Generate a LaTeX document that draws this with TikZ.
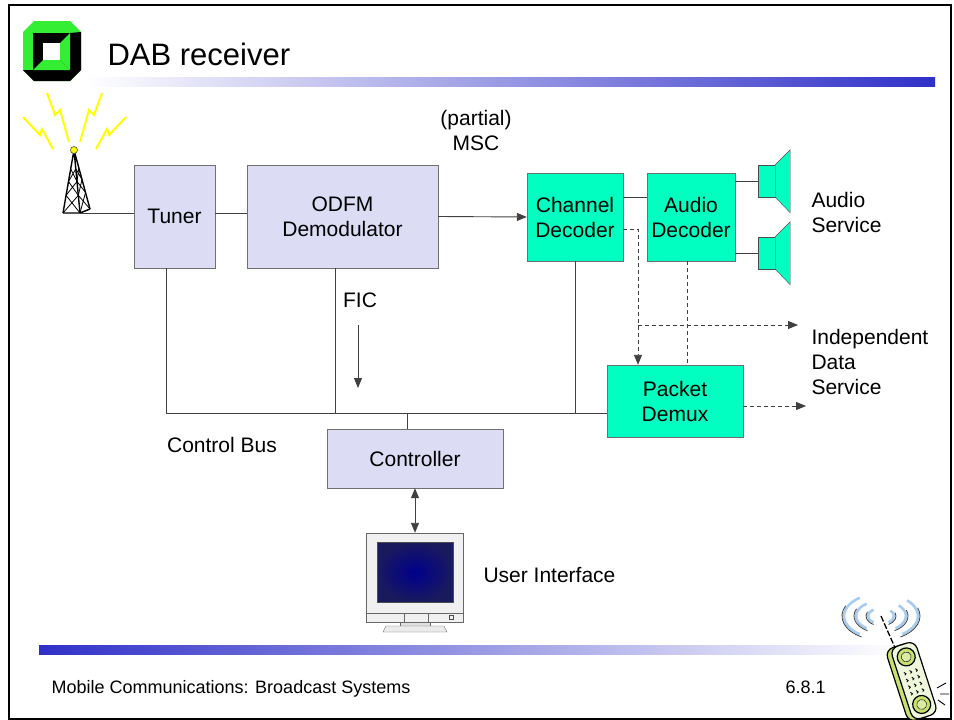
\documentclass[tikz,border=0pt]{standalone}
\usepackage{fontspec}
\setmainfont{Liberation Sans}
\usetikzlibrary{arrows.meta, positioning, calc}
\definecolor{lavender}{HTML}{DCDCF5}
\definecolor{mint}{HTML}{00FFC0}
\definecolor{barblue}{HTML}{3030C8}
\definecolor{kitgreen}{HTML}{33EE33}
\definecolor{wiregray}{HTML}{404040}
\definecolor{rimgray}{HTML}{707070}
\definecolor{bolt}{HTML}{FFFF00}
\definecolor{phoneface}{HTML}{EEF6DC}
\definecolor{phoneside}{HTML}{C8E070}
\definecolor{wave}{HTML}{A8CCF0}

\begin{document}
\begin{tikzpicture}[
    x=1pt, y=-1pt,
    every node/.style={font=\fontsize{21}{25}\selectfont},
    block/.style={
        rectangle,
        draw=rimgray,
        fill=lavender,
        inner sep=0pt,
        align=center
    },
    decoder/.style={block, fill=mint},
    wire/.style={draw=wiregray, line width=0.9pt},
    tip/.style={-{Triangle[length=10pt, width=8pt]}},
    arrow/.style={wire, tip},
    dashwire/.style={wire, dash pattern=on 4pt off 3pt},
    label/.style={align=left, anchor=west}
]
\useasboundingbox (0,0) rectangle (954,720);

% slide frame
\draw[line width=2pt] (9,5) rectangle (951,719);

% logo
\fill[kitgreen] (34,21) -- (70,21) -- (81,32) -- (81,70) -- (70,81) -- (34,81) -- (23,70) -- (23,32) -- cycle;
\fill[black] (81,32) -- (81,70) -- (70,81) -- (34,81) -- (23,70) -- (33,70) -- (70,70) -- (70,33) -- cycle;
\fill[black] (33,33) rectangle (70,70);
\fill[kitgreen] (33,70) -- (43,60) -- (60,60) -- (70,70) -- cycle;
\fill[kitgreen] (70,33) -- (60,43) -- (60,60) -- (70,70) -- cycle;
\fill[white] (43,43) rectangle (60,60);

% title and bars
\node[anchor=base west, font=\fontsize{31}{36}\selectfont] (title) at (104,65) {DAB receiver};
\shade[left color=white, right color=barblue] (85,77) rectangle (935,86);
\shade[left color=barblue, right color=white] (39,645) rectangle (900,654);
\node[anchor=base west, font=\fontsize{18}{21}\selectfont] (course) at (48,693) {Mobile Communications: Broadcast Systems};
\node[anchor=base west, font=\fontsize{18}{21}\selectfont] (page) at (782,693) {6.8.1};

% transmitter tower
\coordinate (top) at (74,150);
\coordinate (lf) at (63,213);
\coordinate (mf) at (80,213);
\coordinate (rf) at (90,209);
\draw[line width=1.4pt, line join=round] (lf) -- (top) -- (mf) (top) -- (rf) (lf) -- (mf) -- (rf);
\foreach \a/\b in {0.3/0.5, 0.5/0.72, 0.72/1} {
    \draw[line width=0.8pt] ($(top)!\a!(lf)$) -- ($(top)!\b!(mf)$) ($(top)!\b!(lf)$) -- ($(top)!\a!(mf)$);
    \draw[line width=0.8pt] ($(top)!\a!(mf)$) -- ($(top)!\b!(rf)$) ($(top)!\b!(mf)$) -- ($(top)!\a!(rf)$);
}
\draw[bolt, line width=2pt] (23,117) -- (40,135) -- (42,129) -- (53,149);
\draw[bolt, line width=2pt] (47,93) -- (55,115) -- (60,110) -- (69,142);
\draw[bolt, line width=2pt] (102,93) -- (94,115) -- (89,110) -- (80,142);
\draw[bolt, line width=2pt] (126,117) -- (109,135) -- (107,129) -- (96,149);
\filldraw[fill=bolt, draw=black!70, line width=0.6pt] (top) circle (3.5);

% receiver chain
\node[block, minimum width=81pt, minimum height=103pt] (tuner) at (174.5,216.5) {Tuner};
\node[block, minimum width=191pt, minimum height=103pt] (odfm) at (342.5,216.5) {ODFM\\Demodulator};
\node[decoder, minimum width=96pt, minimum height=88pt] (chdec) at (575,217) {Channel\\Decoder};
\node[decoder, minimum width=88pt, minimum height=88pt] (auddec) at (691,217) {Audio\\Decoder};
\node[decoder, minimum width=136pt, minimum height=72pt] (demux) at (675,401) {Packet\\Demux};
\node[block, minimum width=176pt, minimum height=59pt] (ctrl) at (415,458.5) {Controller};

\node[align=center] (msc) at (476,130) {(partial)\\MSC};
\node (fic) at (360,300) {FIC};
\node (bus) at (222,445) {Control Bus};
\node[label] (audio) at (808,212) {Audio\\Service};
\node[label] (data) at (808,362) {Independent\\Data\\Service};
\node[label] (ui) at (480,575) {User Interface};

% loudspeakers
\node[decoder, draw=black!70, minimum width=17pt, minimum height=32pt] (spk1) at (766.5,181) {};
\node[decoder, draw=black!70, minimum width=17pt, minimum height=32pt] (spk2) at (766.5,253) {};
\foreach \s in {spk1, spk2}
    \draw[fill=mint, draw=black!70] (\s.north east) -- ++(15,-15) -- ++(0,63) -- (\s.south east) -- cycle;

% signal path
\draw[wire] (mf) -- (mf -| tuner.west);
\draw[wire] (mf -| tuner.east) -- (mf -| odfm.west);
\draw[arrow] (odfm.east) -- (chdec.west);
\draw[wire] ([yshift=20pt]chdec.east) -- ([yshift=20pt]chdec.east -| auddec.west);
\draw[wire] (spk1.west -| auddec.east) -- (spk1.west);
\draw[wire] (spk2.west -| auddec.east) -- (spk2.west);

% data services
\coordinate (split) at (638,325);
\coordinate (idsout) at (798,325);
\coordinate (pktout) at (806,406);
\draw[dashwire, tip] ([yshift=-12pt]chdec.east) -| (split |- demux.north);
\draw[dashwire, tip] (split) -- (idsout);
\draw[dashwire] ([xshift=-4pt]auddec.south) -- ([xshift=-4pt]auddec.south |- demux.north);
\draw[dashwire, tip] (demux.east |- pktout) -- (pktout);

% control bus
\coordinate (busl) at (166,413);
\coordinate (buso) at (335,413);
\coordinate (busc) at (407,413);
\draw[wire] (busl) -- (busl -| demux.west);
\draw[wire] (tuner.south -| busl) -- (busl);
\draw[wire] (odfm.south -| buso) -- (buso);
\draw[wire] (chdec.south) -- (chdec.south |- busl);
\draw[wire] (busc) -- (busc |- ctrl.north);
\coordinate (fica) at (358,325);
\coordinate (ficb) at (358,388);
\draw[arrow] (fica) -- (ficb);

% user terminal
\node[draw=black!60, fill=black!6, minimum width=97pt, minimum height=80pt, inner sep=0pt] (monitor) at (415,573) {};
\shade[inner color=blue!55!black, outer color=blue!30!black!90, draw=black!70] (377,542) rectangle (453,602);
\draw[draw=black!60, fill=black!6] (366.5,613) rectangle (463.5,622);
\draw[black!60] (404,613) -- (404,622) (428,613) -- (428,622);
\draw[black!70] (449,615) rectangle (453,619);
\draw[draw=black!60, fill=black!12] (400,622) rectangle (430,626);
\draw[draw=black!60, fill=black!8] (386,626) -- (444,626) -- (447,632) -- (383,632) -- cycle;
\draw[wire, {Triangle[length=10pt, width=8pt]}-{Triangle[length=10pt, width=8pt]}] (ctrl.south) -- (monitor.north);

% handset
\coordinate (ant) at (881,616);
\foreach \r in {13,25,37} {
    \draw[wave, line width=2.6pt] (ant) ++(125:\r*1 and \r*0.6) arc[start angle=125, end angle=235, x radius=\r, y radius=\r*0.6];
    \draw[wave, line width=2.6pt] (ant) ++(55:\r*1 and \r*0.6) arc[start angle=55, end angle=-45, x radius=\r, y radius=\r*0.6];
    \draw[black!75, line width=0.8pt] (ant) ++(120:\r*1+2 and \r*0.6+2) arc[start angle=120, end angle=205, x radius=\r+2, y radius=\r*0.6+2];
    \draw[black!75, line width=0.8pt] (ant) ++(60:\r*1+2 and \r*0.6+2) arc[start angle=60, end angle=-20, x radius=\r+2, y radius=\r*0.6+2];
}
\draw[line width=1.3pt, dash pattern=on 6pt off 2pt] (ant) -- (896,650);
\begin{scope}[shift={(913,681)}, rotate=-72]
    \draw[fill=phoneside, rounded corners=8pt, line width=1.2pt] (-38,-10) rectangle (38,17);
    \draw[fill=phoneface, rounded corners=8pt, line width=1.2pt] (-38,-14) rectangle (38,12);
    \draw[fill=phoneside, line width=1.2pt] (-25,-1) circle (9);
    \draw[fill=phoneface!50!phoneside] (-25,-1) circle (5);
    \draw[fill=phoneside, line width=1.2pt] (25,-1) circle (9);
    \draw[fill=phoneface!50!phoneside] (25,-1) circle (5);
    \foreach \i in {-11,-4,3,10}
        \foreach \j in {-6,0,6}
            \draw[line width=0.9pt] (\i,\j) -- ++(2,-1.5) -- ++(1,1.5);
\end{scope}
\draw[line width=0.9pt] (937,688) -- (946,683) (940,694) -- (949,694) (938,700) -- (945,705);

\end{tikzpicture}
\end{document}
